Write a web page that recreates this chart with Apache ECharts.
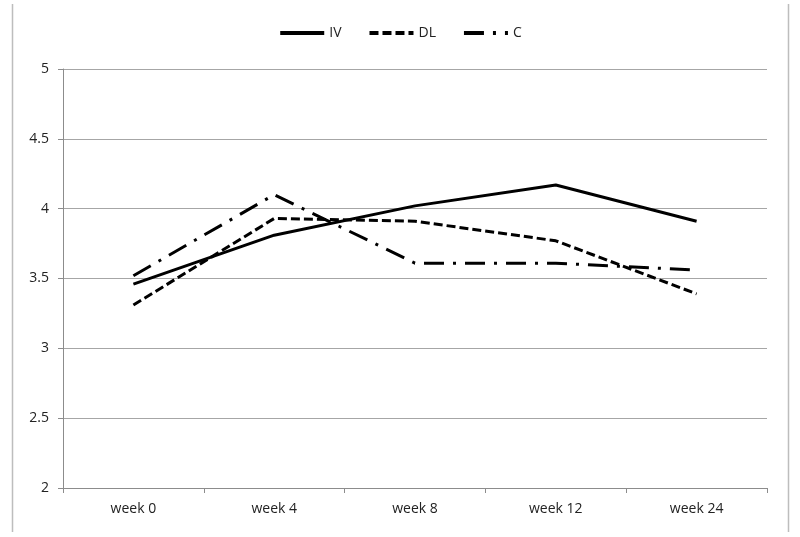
<!DOCTYPE html>
<html>
<head>
<meta charset="utf-8">
<script src="https://cdn.jsdelivr.net/npm/echarts@6/dist/echarts.min.js"></script>
<style>html,body{margin:0;padding:0;background:#fff}#c{width:800px;height:537px}</style>
</head>
<body>
<div id="c"></div>
<script>
var categories = ["week 0", "week 4", "week 8", "week 12", "week 24"];
var seriesNames = ["IV", "DL", "C"];
var ivValues = [3.46, 3.81, 4.02, 4.17, 3.91];
var dlValues = [3.31, 3.93, 3.91, 3.77, 3.39];
var cValues = [3.52, 4.10, 3.61, 3.61, 3.56];

var chart = echarts.init(document.getElementById('c'));
var font = 'Open Sans';
chart.setOption({
  animation: false,
  backgroundColor: '#fff',
  legend: {
    top: 21,
    left: 'center',
    itemWidth: 44,
    itemHeight: 14,
    itemGap: 26,
    itemStyle: { color: 'transparent', borderWidth: 0, opacity: 0 },
    lineStyle: { width: 4 },
    textStyle: { fontFamily: font, fontSize: 14, color: '#222' },
    data: seriesNames
  },
  grid: { left: 63, right: 33, top: 69, bottom: 49 },
  xAxis: {
    type: 'category',
    data: categories,
    boundaryGap: true,
    axisLine: { lineStyle: { color: '#8c8c8c', width: 1 } },
    axisTick: { show: true, length: 5, lineStyle: { color: '#8c8c8c' } },
    axisLabel: { fontFamily: font, fontSize: 14, color: '#222', margin: 14 }
  },
  yAxis: {
    type: 'value',
    min: 2, max: 5, interval: 0.5,
    axisLine: { show: true, lineStyle: { color: '#8c8c8c', width: 1 } },
    axisTick: { show: true, length: 5, lineStyle: { color: '#8c8c8c' } },
    axisLabel: { fontFamily: font, fontSize: 14, color: '#222', margin: 14 },
    splitLine: { lineStyle: { color: '#a6a6a6', width: 1 } }
  },
  graphic: [
    { type: 'line', shape: { x1: 12.5, y1: 4, x2: 12.5, y2: 532 }, style: { stroke: '#bdbdbd', lineWidth: 1.5 } },
    { type: 'line', shape: { x1: 788.5, y1: 4, x2: 788.5, y2: 532 }, style: { stroke: '#bdbdbd', lineWidth: 1.5 } }
  ],
  series: [
    { name: seriesNames[0], type: 'line', data: ivValues, symbol: 'none',
      lineStyle: { color: '#000', width: 3, type: 'solid' }, itemStyle: { color: '#000' } },
    { name: seriesNames[1], type: 'line', data: dlValues, symbol: 'none',
      lineStyle: { color: '#000', width: 3, type: [9, 4] }, itemStyle: { color: '#000' } },
    { name: seriesNames[2], type: 'line', data: cValues, symbol: 'none',
      lineStyle: { color: '#000', width: 3, type: [20, 9, 3, 9] }, itemStyle: { color: '#000' } }
  ]
});
</script>
</body>
</html>
